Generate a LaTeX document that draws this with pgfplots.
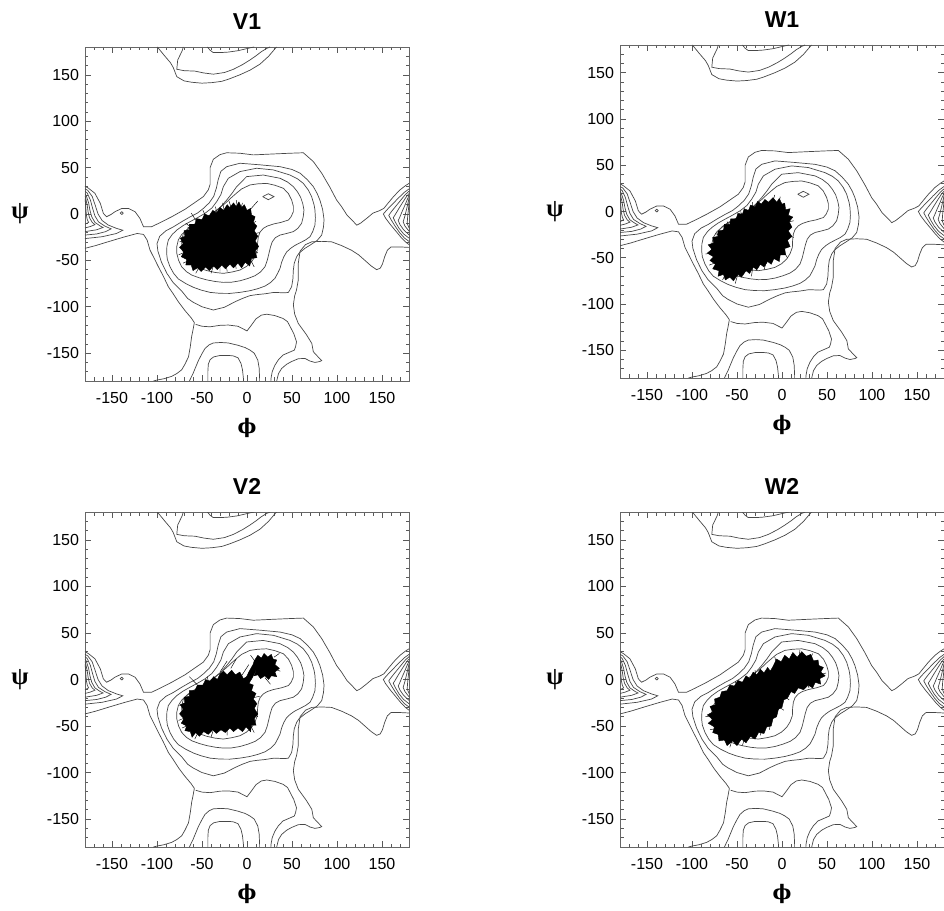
\documentclass[border=0pt]{standalone}
\usepackage{fontspec}
\setmainfont{Liberation Sans}
\newfontfamily\psifont{Liberation Serif}
\newfontfamily\phifont{DejaVu Serif}
\usepackage{pgfplots}
\pgfplotsset{compat=1.18}

\pgfplotsset{
 cont/.style={draw=black!72, line width=0.7pt, no marks},
 blob/.style={fill=black, draw=black, line width=0.4pt, no marks},
 hair/.style={draw=black, line width=0.45pt, no marks, unbounded coords=jump},
 rama/.style={
  scale only axis, width=324pt, anchor=south west,
  xmin=-180, xmax=180, ymin=-180, ymax=180,
  xtick={-150,-100,-50,0,50,100,150},
  ytick={-150,-100,-50,0,50,100,150},
  xticklabels={-150,-100,-50,0,50,100,150},
  yticklabels={-150,-100,-50,0,50,100,150},
  minor xtick={-170,-160,...,170},
  minor ytick={-170,-160,...,170},
  tick align=inside, xtick pos=both, ytick pos=both,
  xticklabel pos=lower, yticklabel pos=left,
  major tick length=6pt, minor tick length=3.5pt,
  every tick/.style={black!65, line width=0.6pt},
  axis line style={black!60, line width=0.8pt},
  tick label style={font=\fontsize{16}{18}\selectfont},
  xticklabel shift=8pt, yticklabel shift=2.5pt,
  xlabel={ϕ}, ylabel={ψ},
  every axis x label/.style={at={(0.5,0)}, anchor=center, yshift=-47pt, font=\phifont\bfseries\fontsize{20}{24}\selectfont},
  every axis y label/.style={at={(0,0.5)}, anchor=center, xshift=-65pt, font=\psifont\bfseries\fontsize{25}{28}\selectfont},
  every axis title/.style={at={(0.5,1)}, anchor=base, yshift=17.6pt, font=\fontsize{23}{26}\selectfont\bfseries},
 }
}

\newcommand\contours{%
% head line (outer level) from left edge over the alpha region to right edge
\addplot[cont] coordinates {(-180,30) (-176,27.7) (-169,22.3) (-163,11.5) (-159.6,0.7) (-156,-2.9) (-151,-0.5) (-146.7,2.5) (-139,6) (-131.8,6) (-124.4,2.5) (-119,-4.7) (-115,-13.7) (-106,-13.7) (-96.7,-9.4) (-83.7,-3) (-69,5) (-60,11) (-48.5,18.7) (-43,26) (-41,32) (-41,50) (-37.4,59) (-30,64) (-22.6,66) (-8,65.5) (7,63.7) (29,64.7) (48,65.5) (62.6,66) (73.7,56.5) (83,44) (92,29) (99.6,15) (105,8) (111,-1) (118,-8) (122,-12) (126,-10) (133,-4.7) (140,1) (147,3.5) (152,6) (157,12) (163,19) (170,26) (176,30.5) (180,33)};
\addplot[cont] coordinates {(-141,1) (-139,2.5) (-137.5,1) (-139,-0.5) (-141,1)};
% lower outer line through the saddle
\addplot[cont] coordinates {(-180,-37) (-168,-34) (-158,-31) (-146,-27.5) (-135.5,-24.5) (-122,-21) (-115,-22) (-111,-28) (-107.8,-38.8) (-103,-48) (-98.5,-56.8) (-93,-67) (-87.4,-78.4) (-82,-86) (-76,-95) (-69,-104) (-62,-112) (-58.5,-117) (-60,-125) (-61.5,-132) (-63,-143) (-65,-154) (-69,-162) (-72.6,-168) (-78,-172) (-83.7,-175) (-92,-177.5) (-100,-179) (-104,-180)};
\addplot[cont] coordinates {(-99.6,180) (-92,171) (-85,163) (-82,158) (-78,148) (-70,143.5) (-61.5,142) (-50,141) (-39,141.6) (-28,143) (-20,145.5) (-8,150) (3.3,155) (14.4,161.5) (24,170) (31,178) (33,180)};
\addplot[cont] coordinates {(33,-180) (35,-172) (38.5,-166.5) (44,-162) (49.6,-159) (57,-156) (64.4,-155.7) (70,-158.5) (75.5,-160) (81,-159) (83,-158) (78,-153) (73.7,-148.5) (72,-139.5) (66,-130) (57,-118) (53,-108) (51.5,-98) (53,-88) (55,-82) (57,-71) (57,-62) (57,-53) (59,-40) (65,-33) (72,-30) (83,-29.5) (94,-30) (105,-34) (116,-39) (124,-44) (131,-50) (138,-56) (144,-60) (148,-58.5) (150.5,-54) (153,-46) (156,-39) (160,-35.5) (170,-35.5) (180,-36)};
\addplot[cont] coordinates {(-57,-119) (-50,-121) (-41,-121.6) (-30,-120) (-20.7,-119.7) (-10,-121) (-3,-124.5) (0,-126) (4,-121) (10,-113) (16,-109) (22,-108) (31,-109.5) (40,-112.6) (45,-116) (48,-121.5) (52,-129) (55,-137.8) (54,-143) (52.6,-146.7) (46,-149.5) (40,-152) (35,-157) (31,-163) (28,-170) (26.7,-177) (26.5,-180)};
\addplot[cont] coordinates {(-70.8,180) (-72,176) (-77,166) (-78,156) (-70,154.5) (-57.8,154) (-48,152) (-37.4,150.7) (-25,152.5) (-15,156) (-5,161) (3.3,166) (10,170.5) (16,175) (22,178.5) (25.6,180)};
\addplot[cont] coordinates {(-64,-180) (-60,-172) (-57,-165) (-54,-158) (-50,-150.5) (-46.7,-145) (-42,-141) (-37.4,-139) (-29,-138.5) (-20.8,-139) (-10,-141.5) (-2,-144) (3.3,-146.7) (8,-150) (12,-157.5) (13.5,-166) (14,-177) (14,-180)};
\addplot[cont] coordinates {(-44,180) (-41,176.5) (-37.5,174) (-29,174) (-21,174.5) (-10,176) (3,179) (8,180)};
\addplot[cont] coordinates {(-43.5,-180) (-43.5,-170) (-43,-162) (-41,-157) (-37,-154) (-30,-152.5) (-20,-152.5) (-15,-153) (-10,-155) (-6.7,-161) (-5,-168) (-4,-177) (-4,-180)};
% nested contours of the alpha basin
\addplot[cont] coordinates {(-22.6,51) (-7.8,54.7) (14.4,53) (36.7,51) (50,48) (59,44) (67,37) (73.7,29.5) (78,22) (81,15) (84,5) (85.6,-6) (85,-14) (83,-22.7) (78,-28.5) (71,-33) (64.4,-37) (58,-42) (55.2,-46) (52.5,-53) (51.5,-60.4) (51,-70) (49.6,-78.4) (46,-84.5) (42,-85) (30,-84.5) (20,-86) (10,-87) (3.3,-88) (-5,-91) (-13.3,-94.6) (-25,-100.5) (-37.4,-103.5) (-50,-100) (-60,-95) (-66,-91) (-72.6,-83) (-82,-74) (-89,-64) (-95,-52) (-99,-40) (-100,-32) (-97,-24) (-90,-18) (-82,-14) (-72,-8) (-63,-3) (-55,1) (-48.5,6) (-42,12) (-37,19) (-34,28) (-32,37) (-29,46) (-22.6,51)};
\addplot[cont] coordinates {(-20.7,38.5) (-7.8,45.7) (10.7,49.3) (29.3,47.5) (47.8,42) (56,38) (62.6,33) (68,26) (71.8,18.7) (74.5,10) (75.5,4.3) (76,-4) (75.5,-11.9) (73,-19) (70,-24.5) (65,-28) (59,-31) (53,-34) (48.5,-37) (44,-41) (41,-46) (38.5,-52) (36.7,-58.6) (34,-64) (31,-69.4) (26,-74) (20,-77.7) (12,-80.5) (3.3,-82.7) (-8,-84.5) (-19,-85.6) (-30,-85.5) (-41,-84.5) (-51,-82) (-59.6,-79) (-68,-75) (-76.3,-70) (-81.5,-64) (-85.6,-56.8) (-88.5,-49) (-89.3,-42.4) (-89,-35) (-87.4,-28) (-83,-22) (-78,-17.3) (-71,-12.5) (-63.3,-8.3) (-55,-4) (-46.7,0.7) (-39,6.5) (-33.7,13.3) (-29,21) (-26.3,29.5) (-20.7,38.5)};
\addplot[cont] coordinates {(-11.5,29.5) (-0.4,40.3) (18,42) (36.7,38.5) (45,34.5) (51.5,29.5) (56,24) (59.6,18) (62,11) (63.3,4.3) (62.5,-3) (60.7,-10) (56.5,-15.5) (51.5,-19) (44,-21) (36.7,-22.7) (31.5,-25.5) (28,-30) (26,-36) (24.4,-42.4) (22.5,-50) (20,-56.8) (15,-62.5) (9,-66.5) (1,-69.5) (-7.8,-72) (-17,-73.5) (-26.3,-73.7) (-35,-72.8) (-44.8,-71) (-53,-68.8) (-61.5,-65.8) (-67.5,-62) (-72.6,-56.8) (-76,-50) (-78,-42.4) (-78,-35) (-76.3,-28) (-72.5,-22) (-67,-17.3) (-59.5,-12.5) (-52,-8.3) (-44.5,-4) (-37.4,0.7) (-29.5,7.5) (-22.6,15) (-16.5,22.5) (-11.5,29.5)};
\addplot[cont] coordinates {(-6,27) (3.3,31.3) (12,32.5) (21.9,33) (31,31) (40.4,27.7) (46,22) (49.6,15.1) (51.5,8.5) (51.5,2.5) (49,-3) (46,-6.5) (38,-9) (29.3,-10.8) (22.5,-13) (18.1,-15.5) (14.5,-19.5) (12.6,-24.5) (11.8,-31) (11.5,-38.8) (9,-45.5) (5.2,-51.4) (-0.5,-56.5) (-7.8,-60.4) (-16.5,-62.5) (-26.3,-64) (-35.5,-63) (-44.8,-61) (-52.5,-58.5) (-59.6,-55) (-65,-51) (-69,-46) (-71.5,-39) (-72.6,-31.6) (-72,-26) (-70.7,-20.9) (-66,-16) (-60,-12) (-52.5,-8) (-45,-4) (-37.5,1.5) (-30,7) (-23,12.5) (-17,18) (-11,23) (-6,27)};
\addplot[cont] coordinates {(17.4,18.7) (23.7,21.8) (30,18.7) (23.7,15.4) (17.4,18.7)};
% left-edge bundle
\addplot[cont] coordinates {(-180,27) (-177,25.5) (-172,19) (-168.5,9) (-165.5,0) (-161,-7) (-154,-12) (-145,-15.5) (-138,-17.5) (-145,-21) (-161,-24.5) (-180,-26.5)};
\addplot[cont] coordinates {(-180,24.5) (-177.5,22.5) (-174,15) (-171.5,6) (-169,-2) (-165,-8.5) (-158,-13) (-151,-16) (-157,-19) (-167,-21.5) (-180,-22.7)};
\addplot[cont] coordinates {(-180,22) (-178.5,19.5) (-176,12) (-174.5,4) (-172.5,-3) (-169,-9) (-163,-13) (-160,-14.5) (-167,-17) (-180,-19)};
\addplot[cont] coordinates {(-180,19.5) (-179,16) (-177.5,9) (-176.5,2) (-175,-4) (-172,-9) (-169,-11.5) (-174,-13.5) (-180,-15)};
\addplot[cont] coordinates {(-180,16.5) (-179.5,12) (-179,5) (-178.5,-1) (-177.5,-6) (-176,-9) (-180,-11)};
% right-edge bundle
\addplot[cont] coordinates {(180,27) (175,23.5) (168,17) (161,10) (155,4) (151.5,0) (154,-4.5) (159,-11) (165,-18) (171,-25) (176,-30) (180,-33)};
\addplot[cont] coordinates {(180,24.5) (176,21) (170.5,14.5) (165,8) (160,2) (157.5,-1.5) (160,-6) (164.5,-13) (169.5,-20) (175,-26) (180,-29.5)};
\addplot[cont] coordinates {(180,22) (177,18.5) (173,12.5) (168.5,5.5) (164.5,-1) (162.5,-4) (165,-9) (169,-15.5) (174,-21.5) (180,-26)};
\addplot[cont] coordinates {(180,19.5) (178,15.5) (175.5,9.5) (172.5,3) (169.5,-4) (168,-7) (170,-11.5) (174,-17) (180,-22.5)};
\addplot[cont] coordinates {(180,17) (179,12.5) (177.5,6) (175.5,-2) (173.5,-8.5) (175.5,-13) (180,-18.5)};
\addplot[cont] coordinates {(180,14) (179.5,6) (178.5,-3) (178,-10) (180,-15)};
}

\begin{document}
\begin{tikzpicture}[x=1pt,y=1pt]
\useasboundingbox (0,0) rectangle (944,910);

% ---------------- V1 ----------------
\begin{axis}[rama, at={(85pt,529pt)}, height=334pt, title={V1}]
\contours
\addplot[blob] coordinates {(-15,12) (-12,8) (-9,13) (-6,7) (-3,10) (0,4) (4,6) (5,-1) (9,-3) (7,-9) (11,-13) (8,-18) (12,-24) (9,-29) (13,-35) (9,-40) (11,-47) (5,-48) (3,-56) (-2,-52) (-6,-58) (-10,-53) (-15,-58) (-19,-54) (-24,-59) (-28,-55) (-33,-60) (-37,-56) (-42,-61) (-46,-57) (-51,-62) (-55,-58) (-60,-61) (-62,-55) (-68,-55) (-67,-49) (-73,-46) (-70,-41) (-75,-36) (-71,-32) (-74,-26) (-69,-24) (-70,-18) (-64,-17) (-64,-11) (-58,-11) (-56,-5) (-50,-6) (-47,0) (-42,-2) (-38,4) (-34,1) (-30,7) (-26,4) (-22,10) (-19,7) (-15,12)};
\addplot[hair] coordinates {(-62,1) (-52,-14) (nan,nan) (-66,-14) (-58,-20) (nan,nan) (2,3) (12,14) (nan,nan) (-40,-64) (-36,-52) (nan,nan) (8,-57) (2,-46) (nan,nan) (-12,15) (-10,4) (nan,nan) (-27,12) (-25,2) (nan,nan) (-76,-44) (-66,-40) (nan,nan) (12,-42) (4,-36) (nan,nan) (-20,14) (-16,2) (nan,nan) (-5,12) (-8,2) (nan,nan) (14,-20) (5,-22) (nan,nan) (-75,-30) (-64,-28) (nan,nan) (-57,-64) (-50,-52) (nan,nan) (-22,-62) (-24,-50) (nan,nan) (-71,-53) (-60,-48) (nan,nan) (-49,4) (-44,-6) (nan,nan) (-35,8) (-33,-3) (nan,nan) (-68,-10) (-60,-16) (nan,nan) (-30,-62) (-30,-50) (nan,nan) (-12,-59) (-14,-48) (nan,nan) (10,-8) (2,-12)};
\end{axis}

% ---------------- W1 ----------------
\begin{axis}[rama, at={(620pt,532pt)}, height=333pt, title={W1}]
\contours
\addplot[blob] coordinates {(-10,15) (-6,10) (-3,14) (0,8) (3,9) (4,2) (9,3) (7,-4) (12,-6) (8,-11) (11,-17) (7,-21) (11,-27) (6,-31) (9,-38) (3,-40) (4,-47) (-2,-47) (-3,-54) (-9,-51) (-12,-57) (-16,-54) (-20,-60) (-24,-57) (-28,-63) (-32,-60) (-36,-67) (-40,-64) (-45,-71) (-49,-68) (-54,-75) (-58,-71) (-63,-74) (-65,-68) (-71,-70) (-70,-64) (-77,-62) (-74,-57) (-80,-53) (-76,-49) (-83,-45) (-78,-41) (-82,-36) (-76,-34) (-77,-28) (-71,-27) (-71,-21) (-65,-20) (-64,-14) (-58,-14) (-57,-8) (-51,-8) (-49,-2) (-44,-3) (-42,3) (-37,1) (-35,7) (-30,5) (-27,11) (-23,8) (-19,13) (-15,10) (-10,15)};
\addplot[hair] coordinates {(-8,18) (-12,6) (nan,nan) (13,-28) (2,-24) (nan,nan) (-85,-46) (-72,-44) (nan,nan) (-52,-78) (-48,-64) (nan,nan) (-20,-63) (-16,-50) (nan,nan) (-61,-11) (-56,-22) (nan,nan) (13,-10) (4,-12) (nan,nan) (-2,16) (-4,4) (nan,nan) (-33,10) (-32,-2) (nan,nan) (-46,0) (-42,-10) (nan,nan) (-74,-24) (-66,-26) (nan,nan) (-66,-74) (-60,-62) (nan,nan) (-34,-70) (-32,-58) (nan,nan) (6,-50) (0,-40) (nan,nan) (-81,-58) (-70,-54)};
\end{axis}

% ---------------- V2 ----------------
\begin{axis}[rama, at={(85pt,63pt)}, height=335pt, title={V2}]
\contours
\addplot[blob] coordinates {(-26,9) (-22,5) (-17,10) (-13,5) (-8,8) (-4,1) (0,3) (2,-4) (7,-6) (5,-12) (10,-15) (7,-21) (11,-26) (8,-31) (12,-37) (8,-42) (10,-49) (5,-49) (4,-56) (-1,-51) (-5,-56) (-10,-52) (-15,-56) (-19,-52) (-24,-57) (-29,-54) (-34,-58) (-38,-54) (-43,-59) (-48,-56) (-53,-61) (-57,-57) (-61,-62) (-63,-56) (-69,-55) (-67,-50) (-73,-47) (-70,-42) (-75,-37) (-71,-32) (-74,-27) (-69,-25) (-70,-19) (-64,-18) (-64,-12) (-58,-12) (-55,-6) (-49,-6) (-46,0) (-41,-2) (-37,3) (-33,0) (-30,6) (-26,9)};
\addplot[blob] coordinates {(-3,-2) (2,8) (6,15) (11,12) (6,2) (1,-6) (-3,-2)};
\addplot[blob] coordinates {(8,20) (12,26) (16,23) (19,28) (23,24) (27,27) (29,22) (33,21) (31,16) (36,12) (31,8) (33,3) (27,4) (24,0) (20,4) (15,1) (12,5) (8,4) (10,10) (6,14) (8,20)};
\addplot[hair] coordinates {(-30,8) (-22,20) (nan,nan) (-18,12) (-12,22) (nan,nan) (-6,4) (2,16) (nan,nan) (20,2) (26,-5) (nan,nan) (-55,-6) (-64,3) (nan,nan) (-40,-62) (-36,-50) (nan,nan) (8,-57) (2,-46) (nan,nan) (-76,-44) (-66,-40) (nan,nan) (30,24) (36,28) (nan,nan) (12,-40) (4,-34) (nan,nan) (-58,-64) (-52,-52) (nan,nan) (-72,-52) (-62,-48) (nan,nan) (-22,-60) (-22,-48) (nan,nan) (14,-18) (5,-20) (nan,nan) (-75,-28) (-65,-26) (nan,nan) (4,26) (10,18) (nan,nan) (37,9) (28,12) (nan,nan) (-44,3) (-42,-8)};
\end{axis}

% ---------------- W2 ----------------
\begin{axis}[rama, at={(620pt,63pt)}, height=335pt, title={W2}]
\contours
\addplot[blob] coordinates {(-10,14) (-6,22) (-1,19) (3,26) (8,22) (12,29) (17,24) (22,30) (27,25) (32,27) (35,20) (40,21) (41,15) (46,13) (43,8) (48,4) (42,1) (43,-5) (37,-3) (34,-9) (29,-6) (24,-11) (18,-9) (14,-15) (10,-13) (6,-20) (2,-22) (0,-30) (-4,-32) (-6,-40) (-10,-42) (-12,-50) (-17,-51) (-20,-58) (-26,-57) (-30,-64) (-35,-61) (-40,-68) (-45,-64) (-50,-71) (-55,-66) (-61,-71) (-64,-65) (-70,-66) (-71,-59) (-77,-57) (-75,-51) (-82,-47) (-77,-43) (-83,-38) (-77,-35) (-80,-29) (-74,-27) (-75,-21) (-69,-19) (-67,-13) (-61,-12) (-58,-6) (-53,-7) (-49,-1) (-44,-3) (-40,4) (-36,1) (-32,8) (-28,5) (-24,11) (-20,7) (-16,13) (-13,9) (-10,14)};
\addplot[hair] coordinates {(-8,24) (-4,10) (nan,nan) (20,32) (18,18) (nan,nan) (49,7) (38,4) (nan,nan) (-85,-40) (-72,-38) (nan,nan) (-44,-71) (-40,-58) (nan,nan) (-14,-54) (-12,-42) (nan,nan) (-30,10) (-28,-2) (nan,nan) (-52,-2) (-48,-12) (nan,nan) (-72,-20) (-64,-22) (nan,nan) (8,-22) (0,-16) (nan,nan) (30,-9) (26,2) (nan,nan) (-58,-73) (-54,-60) (nan,nan) (-80,-54) (-70,-52) (nan,nan) (-24,-60) (-22,-48) (nan,nan) (34,28) (30,18) (nan,nan) (2,-33) (-6,-28)};
\end{axis}
\end{tikzpicture}
\end{document}
